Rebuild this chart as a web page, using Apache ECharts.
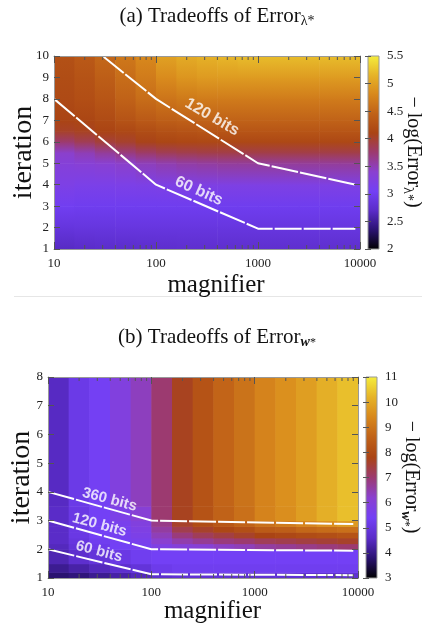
<!DOCTYPE html>
<html>
<head>
<meta charset="utf-8">
<title>Tradeoffs of Error</title>
<script src="https://cdn.jsdelivr.net/npm/echarts@6/dist/echarts.min.js"></script>
<style>
html, body { margin: 0; padding: 0; background: #fff; }
#chart { width: 422px; height: 625px; }
</style>
</head>
<body>
<div id="chart"></div>
<script>
// magnifier bins, 5 per decade
var magEdges = [10, 15.85, 25.12, 39.81, 63.1, 100, 158.5, 251.2, 398.1, 631, 1000, 1585, 2512, 3981, 6310, 10000];
var magTicks = [10, 100, 1000, 10000];
var magMinor = [20, 30, 40, 50, 60, 70, 80, 90, 200, 300, 400, 500, 600, 700, 800, 900,
                2000, 3000, 4000, 5000, 6000, 7000, 8000, 9000];

// (a) -log(Error_lambda*) sampled at these iterations (one row per iteration)
var iterA = [1, 2, 3, 4, 5, 5.5, 6, 6.5, 7, 8, 9, 10];
var errA = [
  [2.68, 2.70, 2.72, 2.72, 2.73, 2.74, 2.75, 2.75, 2.75, 2.75, 2.75, 2.75, 2.75, 2.75, 2.75],
  [2.86, 2.87, 2.87, 2.88, 2.88, 2.88, 2.88, 2.88, 2.88, 2.88, 2.88, 2.88, 2.88, 2.88, 2.88],
  [3.02, 3.00, 3.00, 3.00, 3.00, 3.00, 3.00, 3.00, 3.00, 3.00, 3.00, 3.00, 3.00, 3.00, 3.00],
  [3.20, 3.17, 3.17, 3.18, 3.19, 3.20, 3.21, 3.22, 3.22, 3.22, 3.22, 3.22, 3.22, 3.22, 3.22],
  [3.32, 3.35, 3.38, 3.42, 3.48, 3.52, 3.56, 3.58, 3.60, 3.60, 3.60, 3.60, 3.60, 3.60, 3.60],
  [3.42, 3.50, 3.60, 3.70, 3.78, 3.85, 3.88, 3.90, 3.90, 3.90, 3.90, 3.90, 3.90, 3.90, 3.90],
  [3.75, 3.85, 3.95, 4.00, 4.08, 4.12, 4.14, 4.15, 4.15, 4.15, 4.15, 4.15, 4.15, 4.15, 4.15],
  [4.02, 4.05, 4.10, 4.15, 4.20, 4.25, 4.28, 4.30, 4.30, 4.30, 4.30, 4.30, 4.30, 4.30, 4.30],
  [4.10, 4.12, 4.18, 4.28, 4.35, 4.40, 4.43, 4.45, 4.45, 4.45, 4.45, 4.45, 4.45, 4.45, 4.45],
  [4.17, 4.22, 4.30, 4.45, 4.55, 4.62, 4.66, 4.68, 4.68, 4.68, 4.68, 4.68, 4.68, 4.68, 4.68],
  [4.20, 4.28, 4.40, 4.55, 4.68, 4.82, 4.90, 4.94, 4.95, 4.95, 4.95, 4.95, 4.95, 4.95, 4.95],
  [4.25, 4.35, 4.50, 4.65, 4.80, 5.00, 5.08, 5.13, 5.17, 5.20, 5.20, 5.20, 5.20, 5.20, 5.20]
];

// (b) -log(Error_w*) in blocks between these iteration edges
var iterEdgesB = [1, 1.2, 1.5, 2, 2.2, 2.4, 2.6, 2.8, 3, 3.5, 8];
var errB = [
  [3.80, 3.90, 4.10, 4.30, 4.50, 4.70, 4.80, 4.80, 4.80, 4.80, 4.80, 4.80, 4.80, 4.80, 4.80],
  [4.10, 4.30, 4.50, 4.70, 4.90, 5.20, 5.30, 5.30, 5.30, 5.30, 5.30, 5.30, 5.30, 5.30, 5.30],
  [4.40, 4.70, 4.90, 5.10, 5.30, 5.40, 5.40, 5.40, 5.40, 5.40, 5.40, 5.40, 5.40, 5.40, 5.40],
  [4.50, 4.90, 5.20, 5.40, 5.50, 5.80, 6.00, 6.10, 6.30, 6.40, 6.60, 6.70, 6.80, 6.90, 7.00],
  [4.60, 5.00, 5.30, 5.45, 5.60, 6.20, 6.50, 6.70, 6.90, 7.00, 7.20, 7.30, 7.40, 7.50, 7.60],
  [4.60, 5.10, 5.40, 5.50, 5.70, 6.40, 6.90, 7.20, 7.40, 7.60, 7.80, 7.90, 8.00, 8.10, 8.20],
  [4.60, 5.10, 5.40, 5.50, 5.80, 6.60, 7.30, 7.60, 7.90, 8.10, 8.40, 8.50, 8.70, 8.80, 8.90],
  [4.60, 5.10, 5.40, 5.60, 5.90, 6.80, 7.60, 8.00, 8.30, 8.60, 8.90, 9.10, 9.30, 9.50, 9.70],
  [4.60, 5.10, 5.40, 5.70, 6.10, 7.00, 7.70, 8.20, 8.60, 8.90, 9.30, 9.50, 9.80, 10.10, 10.35],
  [4.55, 5.15, 5.45, 5.90, 6.35, 7.00, 7.70, 8.20, 8.65, 8.95, 9.30, 9.55, 9.80, 10.10, 10.35]
];

// equal-bit curves (magnifier, iteration)
var bits60A = [[10, 8], [100, 4], [1000, 1.95], [9000, 1.95]];
var bits120A = [[30, 10], [100, 8], [1000, 5], [9000, 4]];
var bits60B = [[10, 2], [100, 1.13], [9000, 1.1]];
var bits120B = [[10, 3], [100, 2], [9000, 1.95]];
var bits360B = [[10, 4], [100, 3], [9000, 2.88]];

var rangeA = [2, 5.5];
var rangeB = [3, 11];

var SERIF = '"Liberation Serif", "Times New Roman", serif';
var SANS = '"Liberation Sans", Arial, sans-serif';
var palette = ['#000000', '#2a1270', '#5a2cc8', '#7340f5', '#8a40d0', '#9c3a70',
               '#aa4414', '#c06218', '#d8881c', '#e6b428', '#f5ee3c'];

function cmap(v, lo, hi) {
  var t = Math.max(0, Math.min(1, (v - lo) / (hi - lo)));
  return echarts.color.lerp(t, palette);
}

// cells: [x0, x1, y0, y1, vBottom, vTop]
function gradientCells(iters, rows) {
  var out = [];
  for (var r = 0; r < iters.length - 1; r++) {
    for (var c = 0; c < magEdges.length - 1; c++) {
      out.push([magEdges[c], magEdges[c + 1], iters[r], iters[r + 1], rows[r][c], rows[r + 1][c]]);
    }
  }
  return out;
}
function blockCells(edges, rows) {
  var out = [];
  for (var r = 0; r < edges.length - 1; r++) {
    for (var c = 0; c < magEdges.length - 1; c++) {
      out.push([magEdges[c], magEdges[c + 1], edges[r], edges[r + 1], rows[r][c], rows[r][c]]);
    }
  }
  return out;
}

function heatItem(range) {
  return function (params, api) {
    var tl = api.coord([api.value(0), api.value(3)]);
    var br = api.coord([api.value(1), api.value(2)]);
    return {
      type: 'rect',
      shape: { x: tl[0], y: tl[1], width: br[0] - tl[0] + 0.6, height: br[1] - tl[1] + 0.6 },
      style: {
        fill: new echarts.graphic.LinearGradient(0, 0, 0, 1, [
          { offset: 0, color: cmap(api.value(5), range[0], range[1]) },
          { offset: 1, color: cmap(api.value(4), range[0], range[1]) }
        ])
      }
    };
  };
}

function barItem(params, api) {
  var tl = api.coord([api.value(0), api.value(3)]);
  var br = api.coord([api.value(1), api.value(2)]);
  var stops = palette.map(function (c, i) {
    return { offset: 1 - i / (palette.length - 1), color: c };
  });
  return {
    type: 'rect',
    shape: { x: tl[0], y: tl[1], width: br[0] - tl[0], height: br[1] - tl[1] },
    style: { fill: new echarts.graphic.LinearGradient(0, 0, 0, 1, stops), stroke: '#999', lineWidth: 1 }
  };
}

function minorItem(yLo, yHi) {
  return function (params, api) {
    var b = api.coord([api.value(0), yLo]);
    var t = api.coord([api.value(0), yHi]);
    return {
      type: 'group',
      children: [
        { type: 'line', shape: { x1: b[0], y1: b[1], x2: b[0], y2: b[1] - 4 }, style: { stroke: '#555', lineWidth: 1 } },
        { type: 'line', shape: { x1: t[0], y1: t[1], x2: t[0], y2: t[1] + 4 }, style: { stroke: '#555', lineWidth: 1 } }
      ]
    };
  };
}

var labelsA = [
  { text: '120 bits', x: 354, y: 7.15, rot: -30 },
  { text: '60 bits', x: 263, y: 3.7, rot: -24 }
];
var labelsB = [
  { text: '360 bits', x: 39.4, y: 3.73, rot: -15 },
  { text: '120 bits', x: 31.5, y: 2.85, rot: -15 },
  { text: '60 bits', x: 31.2, y: 1.92, rot: -15 }
];

function magAxis(grid, pos, labels, gap, shift) {
  return {
    type: 'log', logBase: 10, gridIndex: grid, position: pos, min: 10, max: 10000, z: 10,
    name: labels ? 'magnifier' : '', nameLocation: 'middle', nameGap: gap, nameMoveOverlap: false,
    nameTextStyle: { fontFamily: SERIF, fontSize: 25, color: '#111', padding: [0, 0, 0, shift || 0] },
    axisLine: { show: true, onZero: false, lineStyle: { color: '#999', width: 1 } },
    axisTick: { show: true, inside: true, length: 7, lineStyle: { color: '#555' } },
    axisLabel: {
      show: labels, fontFamily: SERIF, fontSize: 13, color: '#222', margin: 8,
      formatter: function (v) { return String(Math.round(v)); }
    },
    splitLine: { show: false }
  };
}
function iterAxis(grid, pos, max, labels, gap) {
  return {
    type: 'value', gridIndex: grid, position: pos, min: 1, max: max, interval: 1, z: 10,
    name: labels ? 'iteration' : '', nameLocation: 'middle', nameGap: gap, nameMoveOverlap: false,
    nameTextStyle: { fontFamily: SERIF, fontSize: 28, color: '#111' },
    axisLine: { show: true, onZero: false, lineStyle: { color: '#999', width: 1 } },
    axisTick: { show: true, inside: true, length: 6, lineStyle: { color: '#555' } },
    axisLabel: { show: labels, fontFamily: SERIF, fontSize: 13, color: '#222', margin: 5 },
    splitLine: { show: false }
  };
}
function barAxis(grid, pos, range, step, labels) {
  return {
    type: 'value', gridIndex: grid, position: pos, min: range[0], max: range[1], interval: step, z: 10,
    axisLine: { show: false },
    axisTick: { show: true, inside: true, length: 3, lineStyle: { color: '#555' } },
    axisLabel: { show: labels, fontFamily: SERIF, fontSize: 13, color: '#222', margin: 8 },
    splitLine: { show: false }
  };
}
function hiddenX(grid) {
  return { type: 'value', gridIndex: grid, min: 0, max: 1, show: false };
}

function bitLine(xi, yi, data) {
  return {
    type: 'line', xAxisIndex: xi, yAxisIndex: yi, data: data, symbol: 'none', z: 3, silent: true,
    lineStyle: { color: '#ffffff', width: 2, type: [27, 2] }
  };
}
function bitLabels(xi, yi, list, size) {
  return {
    type: 'scatter', xAxisIndex: xi, yAxisIndex: yi, symbolSize: 1, z: 4, silent: true,
    itemStyle: { color: 'rgba(0,0,0,0)' },
    label: { show: true, position: 'inside', color: '#fff', fontFamily: SANS, fontWeight: 'bold', fontSize: size },
    data: list.map(function (l) {
      return { value: [l.x, l.y], label: { formatter: l.text, rotate: l.rot } };
    })
  };
}

function titleText(x, y, text, rich) {
  return {
    type: 'text', x: x, y: y,
    style: {
      text: text, fill: '#111', textFill: '#111', fontFamily: SERIF, fontSize: 21, lineHeight: 24,
      align: 'center', textAlign: 'center', verticalAlign: 'middle', textVerticalAlign: 'middle',
      rich: rich
    }
  };
}
function sideText(x, y, text, rich) {
  return {
    type: 'text', x: x, y: y, rotation: -Math.PI / 2,
    style: {
      text: text, fill: '#111', textFill: '#111', fontFamily: SERIF, fontSize: 20, lineHeight: 24,
      align: 'center', textAlign: 'center', verticalAlign: 'middle', textVerticalAlign: 'middle',
      rich: rich
    }
  };
}
var richLambda = { s: { fontFamily: SERIF, fontSize: 14, lineHeight: 10, verticalAlign: 'bottom', fill: '#111' } };
var richW = {
  w: { fontFamily: SERIF, fontSize: 14, fontWeight: 'bold', fontStyle: 'italic', lineHeight: 10, verticalAlign: 'bottom', fill: '#111' },
  s: { fontFamily: SERIF, fontSize: 12, lineHeight: 14, verticalAlign: 'bottom', fill: '#111' }
};

var chart = echarts.init(document.getElementById('chart'));
chart.setOption({
  animation: false,
  backgroundColor: '#fff',
  grid: [
    { left: 54, top: 56, width: 306, height: 193, containLabel: false, outerBoundsMode: 'none' },
    { left: 368, top: 56, width: 11, height: 193, containLabel: false, outerBoundsMode: 'none' },
    { left: 48, top: 377, width: 310, height: 201, containLabel: false, outerBoundsMode: 'none' },
    { left: 366, top: 377, width: 11, height: 201, containLabel: false, outerBoundsMode: 'none' }
  ],
  xAxis: [
    magAxis(0, 'bottom', true, 24, 18),
    magAxis(0, 'top', false, 0),
    hiddenX(1),
    magAxis(2, 'bottom', true, 21, 19),
    magAxis(2, 'top', false, 0),
    hiddenX(3)
  ],
  yAxis: [
    iterAxis(0, 'left', 10, true, 16),
    iterAxis(0, 'right', 10, false, 0),
    barAxis(1, 'right', rangeA, 0.5, true),
    barAxis(1, 'left', rangeA, 0.5, false),
    iterAxis(2, 'left', 8, true, 12),
    iterAxis(2, 'right', 8, false, 0),
    barAxis(3, 'right', rangeB, 1, true),
    barAxis(3, 'left', rangeB, 1, false)
  ],
  series: [
    {
      type: 'custom', xAxisIndex: 0, yAxisIndex: 0, z: 1, silent: true,
      encode: { x: [0, 1], y: [2, 3] },
      renderItem: heatItem(rangeA), data: gradientCells(iterA, errA)
    },
    {
      type: 'custom', xAxisIndex: 0, yAxisIndex: 0, z: 5, silent: true,
      encode: { x: 0, y: 1 }, renderItem: minorItem(1, 10),
      data: magMinor.map(function (m) { return [m, 1]; })
    },
    bitLine(0, 0, bits60A),
    bitLine(0, 0, bits120A),
    bitLabels(0, 0, labelsA, 16),
    {
      type: 'custom', xAxisIndex: 2, yAxisIndex: 2, z: 1, silent: true,
      encode: { x: [0, 1], y: [2, 3] }, renderItem: barItem,
      data: [[0, 1, rangeA[0], rangeA[1]]]
    },
    {
      type: 'custom', xAxisIndex: 3, yAxisIndex: 4, z: 1, silent: true,
      encode: { x: [0, 1], y: [2, 3] },
      renderItem: heatItem(rangeB), data: blockCells(iterEdgesB, errB)
    },
    {
      type: 'custom', xAxisIndex: 3, yAxisIndex: 4, z: 5, silent: true,
      encode: { x: 0, y: 1 }, renderItem: minorItem(1, 8),
      data: magMinor.map(function (m) { return [m, 1]; })
    },
    bitLine(3, 4, bits60B),
    bitLine(3, 4, bits120B),
    bitLine(3, 4, bits360B),
    bitLabels(3, 4, labelsB, 15),
    {
      type: 'custom', xAxisIndex: 5, yAxisIndex: 6, z: 1, silent: true,
      encode: { x: [0, 1], y: [2, 3] }, renderItem: barItem,
      data: [[0, 1, rangeB[0], rangeB[1]]]
    }
  ],
  graphic: [
    titleText(217, 16, '(a) Tradeoffs of Error{s|λ*}', richLambda),
    titleText(217, 337, '(b) Tradeoffs of Error{w|w}{s|*}', richW),
    sideText(413, 152, '− log(Error{s|λ*})', richLambda),
    sideText(411, 477, '− log(Error{w|w}{s|*})', richW),
    { type: 'line', shape: { x1: 14, y1: 296.5, x2: 422, y2: 296.5 }, style: { stroke: '#e6e6e6', lineWidth: 1 } }
  ]
});
</script>
</body>
</html>
